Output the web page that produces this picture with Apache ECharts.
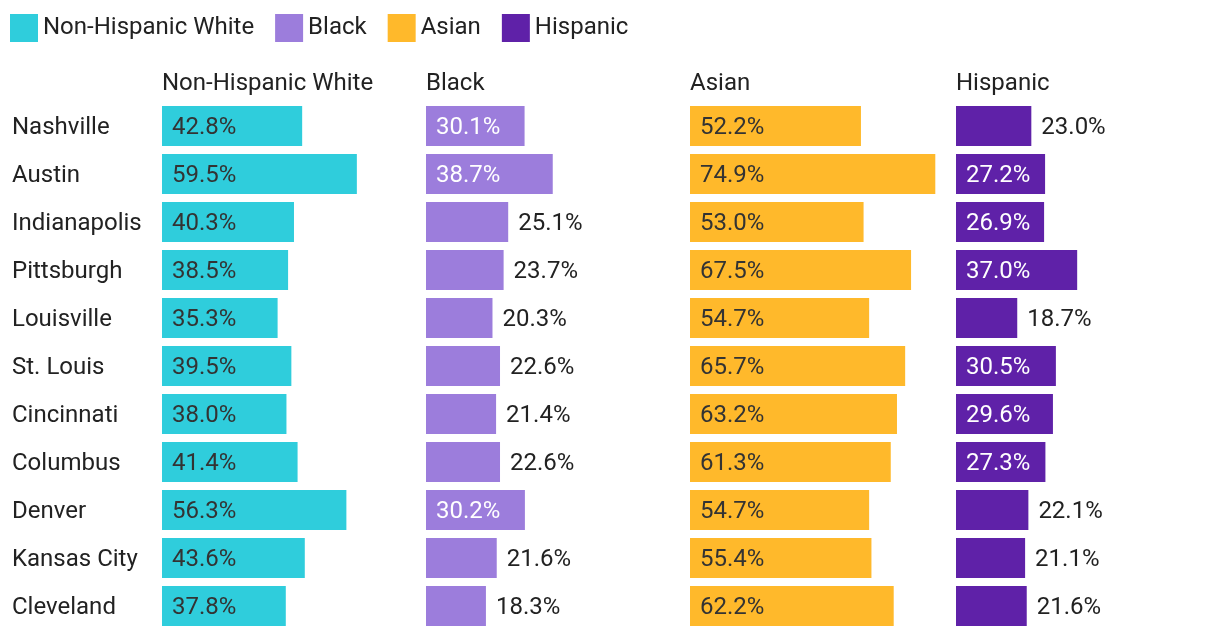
<!DOCTYPE html>
<html>
<head>
<meta charset="utf-8">
<script src="https://cdn.jsdelivr.net/npm/echarts@6/dist/echarts.min.js"></script>
<style>
html,body{margin:0;padding:0;background:#fff;}
#chart{width:1220px;height:638px;}
</style>
</head>
<body>
<div id="chart"></div>
<script>
const cities = ["Nashville","Austin","Indianapolis","Pittsburgh","Louisville","St. Louis","Cincinnati","Columbus","Denver","Kansas City","Cleveland"];
const groups = ["Non-Hispanic White","Black","Asian","Hispanic"];
const nonHispanicWhite = [42.8,59.5,40.3,38.5,35.3,39.5,38.0,41.4,56.3,43.6,37.8];
const black = [30.1,38.7,25.1,23.7,20.3,22.6,21.4,22.6,30.2,21.6,18.3];
const asian = [52.2,74.9,53.0,67.5,54.7,65.7,63.2,61.3,54.7,55.4,62.2];
const hispanic = [23.0,27.2,26.9,37.0,18.7,30.5,29.6,27.3,22.1,21.1,21.6];
const seriesValues = [nonHispanicWhite, black, asian, hispanic];

const colors = ["#2fcddc","#9c7ddc","#ffb92b","#5f21a8"];
const insideTextColors = ["#333333","#ffffff","#333333","#ffffff"];
const panelLeft = [162, 426, 690, 956];
const FONT = "Roboto";
const FS = 24;
const labelInsideMin = 26;

const chart = echarts.init(document.getElementById('chart'), null, {renderer:'canvas'});

const grids = [], xAxes = [], yAxes = [], series = [], titles = [];
groups.forEach((g, i) => {
  grids.push({left: panelLeft[i], top: 102, width: 262, height: 528, containLabel: false});
  xAxes.push({type:'value', gridIndex:i, min:0, max:80, show:false});
  yAxes.push({
    type:'category', gridIndex:i, data:cities, inverse:true,
    axisLine:{show:false}, axisTick:{show:false}, splitLine:{show:false},
    axisLabel:{show:false}
  });
  titles.push({text:g, left:panelLeft[i], top:72, padding:0,
    textStyle:{fontFamily:FONT, fontSize:FS, fontWeight:'normal', color:'#222'}});
  series.push({
    name:g, type:'bar', xAxisIndex:i, yAxisIndex:i,
    barCategoryGap:'16.67%',
    itemStyle:{color:colors[i]},
    animation:false,
    data: seriesValues[i].map(v => {
      const inside = v >= labelInsideMin;
      return {
        value: v,
        label: {
          show:true,
          position: inside ? 'insideLeft' : 'right',
          distance: 10,
          offset: [0, 1.5],
          formatter: p => p.value.toFixed(1) + '%',
          fontFamily: FONT, fontSize: FS,
          color: inside ? insideTextColors[i] : '#222'
        }
      };
    })
  });
});
// city label axis (same category scale, nudged to match text baseline)
grids.push({left: panelLeft[0], top: 103.5, width: 262, height: 528, containLabel: false});
xAxes.push({type:'value', gridIndex:4, min:0, max:80, show:false});
yAxes.push({
  type:'category', gridIndex:4, data:cities, inverse:true,
  axisLine:{show:false}, axisTick:{show:false}, splitLine:{show:false},
  axisLabel:{show:true, align:'left', margin:150, fontFamily:FONT, fontSize:FS, color:'#222'}
});

chart.setOption({
  backgroundColor:'#fff',
  animation:false,
  title: titles,
  legend: {
    data: groups, left:10, top:14, padding:0,
    icon:'rect', itemWidth:28, itemHeight:28, itemGap:21,
    textStyle:{fontFamily:FONT, fontSize:FS, color:'#222'}
  },
  grid: grids,
  xAxis: xAxes,
  yAxis: yAxes,
  series: series
});
</script>
</body>
</html>
